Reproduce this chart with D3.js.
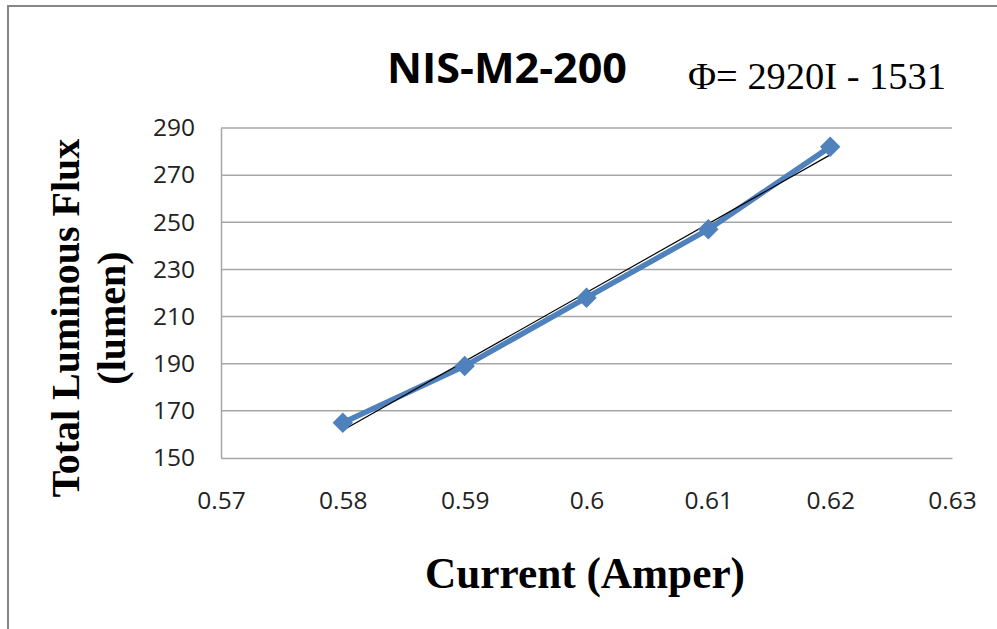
<!DOCTYPE html>
<html>
<head>
<meta charset="utf-8">
<script src="https://cdn.jsdelivr.net/npm/d3@7"></script>
<style>
  html, body { margin: 0; padding: 0; background: #fff; }
  svg { display: block; }
</style>
</head>
<body>
<svg id="chart" width="997" height="629"></svg>
<script>
// ---- data ----
const currents = [0.58, 0.59, 0.60, 0.61, 0.62];
const flux = [165, 189, 218, 247, 282];
const xTicks = [0.57, 0.58, 0.59, 0.60, 0.61, 0.62, 0.63];
const yTicks = [150, 170, 190, 210, 230, 250, 270, 290];
const titleText = "NIS-M2-200";
const equationText = "\u03A6= 2920I - 1531";
const xTitle = "Current (Amper)";
const yTitleLines = ["Total Luminous Flux", "(lumen)"];

// ---- layout ----
const svg = d3.select("#chart");
const plot = { left: 221, right: 952, top: 128, bottom: 458 };

// outer frame
svg.append("rect")
  .attr("x", 8).attr("y", 6)
  .attr("width", 1200).attr("height", 1000)
  .attr("fill", "none").attr("stroke", "#868686").attr("stroke-width", 2);

const x = d3.scaleLinear().domain([0.57, 0.63]).range([plot.left, plot.right]);
const y = d3.scaleLinear().domain([150, 290]).range([plot.bottom, plot.top]);

// gridlines
svg.append("g").selectAll("line").data(yTicks.filter(d => d !== 150)).join("line")
  .attr("x1", plot.left).attr("x2", plot.right)
  .attr("y1", d => y(d)).attr("y2", d => y(d))
  .attr("stroke", "#a6a6a6").attr("stroke-width", 1.5);

// axes
const yAxis = d3.axisLeft(y).tickValues(yTicks).tickSize(0).tickPadding(26).tickFormat(d3.format("d"));
const gy = svg.append("g").attr("transform", `translate(${plot.left},0)`).call(yAxis);
gy.select(".domain").attr("stroke", "#a6a6a6").attr("stroke-width", 1.5);
gy.selectAll("text").attr("font-family", "'Open Sans', sans-serif").attr("font-size", 24.5).attr("fill", "#222");

const xAxis = d3.axisBottom(x).tickValues(xTicks).tickSize(0).tickPadding(34).tickFormat(d => String(+d.toFixed(2)));
const gx = svg.append("g").attr("transform", `translate(0,${plot.bottom})`).call(xAxis);
gx.select(".domain").attr("stroke", "#a6a6a6").attr("stroke-width", 1.5);
gx.selectAll("text").attr("font-family", "'Open Sans', sans-serif").attr("font-size", 24.5).attr("fill", "#222");

// series line
const pts = currents.map((c, i) => [c, flux[i]]);
svg.append("path").datum(pts)
  .attr("d", d3.line().x(d => x(d[0])).y(d => y(d[1])))
  .attr("fill", "none").attr("stroke", "#4f81bd").attr("stroke-width", 5.5)
  .attr("stroke-linejoin", "round");

// trendline (least squares from data)
const mx = d3.mean(currents), my = d3.mean(flux);
const slope = d3.sum(currents.map((c, i) => (c - mx) * (flux[i] - my))) / d3.sum(currents.map(c => (c - mx) ** 2));
const intercept = my - slope * mx;
const tx = d3.extent(currents);
svg.append("line")
  .attr("x1", x(tx[0])).attr("y1", y(slope * tx[0] + intercept))
  .attr("x2", x(tx[1])).attr("y2", y(slope * tx[1] + intercept))
  .attr("stroke", "#000").attr("stroke-width", 1.2);

// markers
svg.append("g").selectAll("path").data(pts).join("path")
  .attr("d", d3.symbol().type(d3.symbolSquare).size(210))
  .attr("transform", d => `translate(${x(d[0])},${y(d[1])}) rotate(45)`)
  .attr("fill", "#4f81bd");

// titles
svg.append("text").text(titleText)
  .attr("x", 507).attr("y", 83).attr("text-anchor", "middle")
  .attr("font-family", "'Open Sans', sans-serif").attr("font-weight", "bold")
  .attr("font-size", 42).attr("textLength", 240).attr("lengthAdjust", "spacingAndGlyphs")
  .attr("fill", "#000");

svg.append("text").text(equationText)
  .attr("x", 688).attr("y", 89)
  .attr("font-family", "'Liberation Serif', 'Times New Roman', serif")
  .attr("font-size", 37).attr("textLength", 258).attr("lengthAdjust", "spacingAndGlyphs")
  .attr("fill", "#000");

svg.append("text").text(xTitle)
  .attr("x", 585).attr("y", 588).attr("text-anchor", "middle")
  .attr("font-family", "'Liberation Serif', 'Times New Roman', serif").attr("font-weight", "bold")
  .attr("font-size", 45).attr("textLength", 320).attr("lengthAdjust", "spacingAndGlyphs")
  .attr("fill", "#000");

const yt = svg.append("text")
  .attr("transform", "translate(0,318) rotate(-90)")
  .attr("text-anchor", "middle")
  .attr("font-family", "'Liberation Serif', 'Times New Roman', serif").attr("font-weight", "bold")
  .attr("font-size", 40).attr("fill", "#000");
yt.selectAll("tspan").data(yTitleLines).join("tspan")
  .attr("x", 0).attr("y", (d, i) => i === 0 ? 79 : 125)
  .text(d => d);
</script>
</body>
</html>
